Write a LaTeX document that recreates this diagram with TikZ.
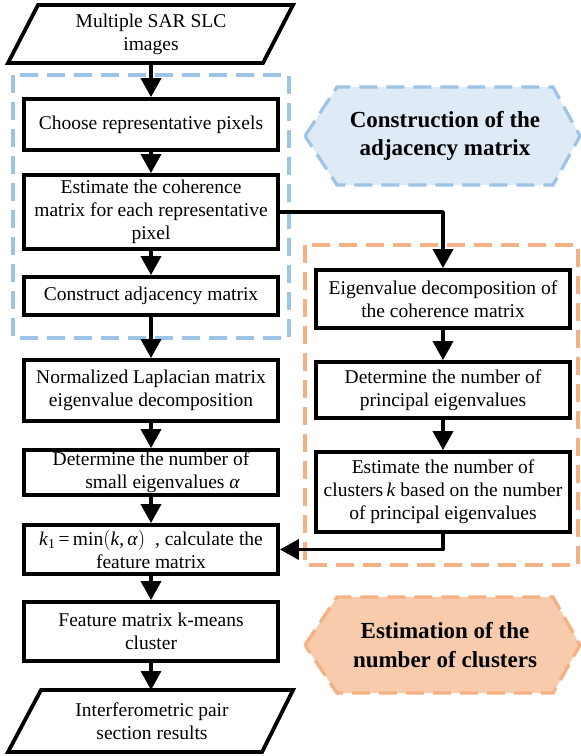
\documentclass[tikz,border=0pt]{standalone}
\usepackage{fontspec}
\setmainfont{Liberation Serif}
\usetikzlibrary{arrows.meta}
\definecolor{bluedash}{HTML}{9DC3E6}
\definecolor{bluefill}{HTML}{DEEBF7}
\definecolor{orgdash}{HTML}{F4B183}
\definecolor{orgfill}{HTML}{F8CBAD}
\begin{document}
\begin{tikzpicture}[x=1pt,y=-1pt,
  box/.style={draw, line width=3.8pt, fill=white, minimum width=254pt, inner sep=0pt, align=center, font=\fontsize{19.5}{23}\selectfont},
  txt/.style={align=center, inner sep=0pt, font=\fontsize{19.5}{23}\selectfont},
  hextxt/.style={align=center, inner sep=0pt, font=\fontsize{23}{28.5}\selectfont\bfseries},
  arr/.style={line width=3.6pt, line join=round, -{Triangle[length=19pt,width=20pt]}},
  para/.style={line width=3.8pt, fill=white},
  dashb/.style={line width=3.2pt, dash pattern=on 18pt off 9pt},
]
\useasboundingbox (0,0) rectangle (581,756);

% dashed group frames
\draw[dashb, bluedash] (13,75) rectangle (289,338);
\draw[dashb, orgdash] (305,245) rectangle (578,565);

% hexagon labels
\draw[dashb, bluedash, fill=bluefill] (305,136) -- (337,87) -- (553,87) -- (580,136) -- (553,185) -- (337,185) -- cycle;
\node[hextxt] (hex1) at (445,136) {Construction of the\\adjacency matrix};
\draw[dashb, orgdash, fill=orgfill] (305,645) -- (337,597) -- (553,597) -- (580,645) -- (553,693) -- (337,693) -- cycle;
\node[hextxt] (hex2) at (445,645) {Estimation of the\\number of clusters};

% input parallelogram
\draw[para] (38,5) -- (293,5) -- (263,63) -- (8,63) -- cycle;
\node[txt] (in) at (151,34) {Multiple SAR SLC\\images};
\coordinate (inb) at (151,63);

% left column
\node[box, minimum height=51pt] (b1) at (151,124.5) {Choose representative pixels};
\node[box, minimum height=74pt] (b2) at (151,212) {Estimate the coherence\\matrix for each representative\\pixel};
\node[box, minimum height=38pt] (b3) at (151,296) {Construct adjacency matrix};
\node[box, minimum height=61pt] (b4) at (151,390.5) {Normalized Laplacian matrix\\eigenvalue decomposition};
\node[box, minimum height=45pt] (b5) at (151,472.5) {Determine the number of\\\hspace{1.2em}small eigenvalues \textit{α}};
\node[box, minimum height=49pt] (b6) at (151,549.5) {\textit{k}\textsubscript{1}\,=\,min$\Big($\textit{k},\,\textit{α}$\Big)$\ \ , calculate the\\feature matrix};
\node[box, minimum height=59pt] (b7) at (151,631.5) {Feature matrix k-means\\cluster};

% output parallelogram
\draw[para] (41,690) -- (293,690) -- (262,752) -- (8,752) -- cycle;
\node[txt] (out) at (152,721) {Interferometric pair\\section results};
\coordinate (outt) at (151,690);

% right column
\node[box, minimum height=58pt] (r1) at (443,299) {Eigenvalue decomposition of\\the coherence matrix};
\node[box, minimum height=56pt] (r2) at (443,390) {Determine the number of\\principal eigenvalues};
\node[box, minimum height=80pt] (r3) at (443,492) {Estimate the number of\\clusters\,\textit{k} based on the number\\of principal eigenvalues};

% connectors
\draw[arr] (inb) -- (b1.north);
\draw[arr] (b1.south) -- (b2.north);
\draw[arr] (b2.south) -- (b3.north);
\draw[arr] (b3.south) -- (b4.north);
\draw[arr] (b4.south) -- (b5.north);
\draw[arr] (b5.south) -- (b6.north);
\draw[arr] (b6.south) -- (b7.north);
\draw[arr] (b7.south) -- (outt);
\draw[arr] (b2.east) -| (r1.north);
\draw[arr] (r1.south) -- (r2.north);
\draw[arr] (r2.south) -- (r3.north);
\draw[arr] (r3.south) |- (b6.east);
\end{tikzpicture}
\end{document}
